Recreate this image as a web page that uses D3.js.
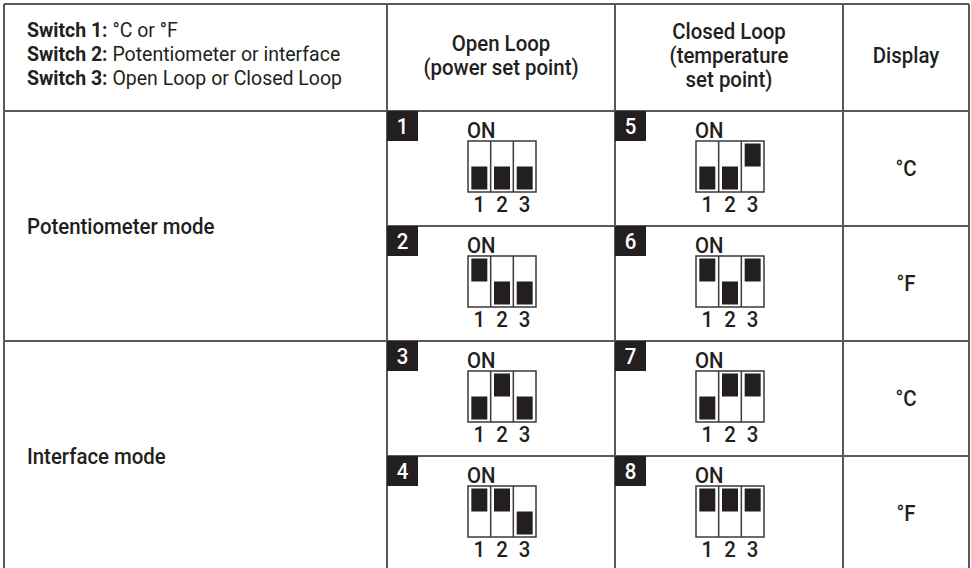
<!DOCTYPE html>
<html><head><meta charset="utf-8">
<script src="https://cdn.jsdelivr.net/npm/d3@7"></script>
<style>
body{margin:0;background:#fff;}
svg text{font-family:Roboto,"Liberation Sans",sans-serif;fill:#231f20;}
</style></head><body>
<svg id="c" width="971" height="568"></svg>
<script>
// ---- data ----
const legendKeys = ["Switch 1:", "Switch 2:", "Switch 3:"];
const legendValues = ["°C or °F", "Potentiometer or interface", "Open Loop or Closed Loop"];
const columnHeaders = [["Open Loop", "(power set point)"], ["Closed Loop", "(temperature", "set point)"], ["Display"]];
const modes = ["Potentiometer mode", "Interface mode"];
const displayUnits = ["°C", "°F", "°C", "°F"];
const openLoopIds = [1, 2, 3, 4];
const closedLoopIds = [5, 6, 7, 8];
const openLoopSwitches = [[0,0,0],[1,0,0],[0,1,0],[1,1,0]];
const closedLoopSwitches = [[0,0,1],[1,0,1],[0,1,1],[1,1,1]];
const switchLabels = ["1", "2", "3"];
const onLabel = "ON";

// ---- layout ----
const svg = d3.select("#c");
const lineColor = "#58595b";
const ink = "#231f20";
const colEdges = [4, 387, 615, 843, 969];
const tableTop = 4, headerBottom = 111, tableBottom = 571;
const row = d3.scaleBand().domain(d3.range(displayUnits.length)).range([headerBottom, tableBottom]);
const modeRow = d3.scaleBand().domain(d3.range(modes.length)).range([headerBottom, tableBottom]);
const fs = 21, fsHead = 22, medium = 500;

// condensed look: horizontal squeeze fitted so the longest legend line matches the reference width
function legendLine(parent, i) {
  const t = parent.append("text").attr("dy", "0.35em").attr("font-size", fs);
  t.append("tspan").attr("font-weight", 700).text(legendKeys[i] + " ");
  t.append("tspan").text(legendValues[i]);
  return t;
}
const probe = legendLine(svg.append("g"), 2);
const sx = 315 / probe.node().getComputedTextLength();
probe.node().parentNode.remove();

function label(x, y, anchor) {
  return svg.append("g").attr("transform", `translate(${x},${y}) scale(${sx},1)`)
    .append("text").attr("text-anchor", anchor || "start").attr("dy", "0.35em");
}

// grid lines
const g = svg.append("g").attr("stroke", lineColor).attr("stroke-width", 2);
g.append("line").attr("x1", colEdges[0]).attr("x2", colEdges[4]).attr("y1", tableTop).attr("y2", tableTop);
colEdges.forEach(x => g.append("line").attr("x1", x).attr("x2", x).attr("y1", tableTop).attr("y2", tableBottom));
g.append("line").attr("x1", colEdges[0]).attr("x2", colEdges[4]).attr("y1", headerBottom).attr("y2", headerBottom);
d3.range(1, displayUnits.length).forEach(i => {
  const y = row(i);
  const full = (i % 2 === 0);
  g.append("line").attr("x1", full ? colEdges[0] : colEdges[1]).attr("x2", colEdges[4]).attr("y1", y).attr("y2", y);
});

// legend (header col 1)
const headMid = 54, lineH = 24;
legendKeys.forEach((k, i) => {
  const gg = svg.append("g").attr("transform", `translate(27,${headMid + (i - 1) * lineH}) scale(${sx},1)`);
  legendLine(gg, i);
});

// column headers
columnHeaders.forEach((lines, ci) => {
  const cx = (colEdges[ci + 1] + colEdges[ci + 2]) / 2;
  lines.forEach((l, li) => {
    label(cx, headMid + 1 + (li - (lines.length - 1) / 2) * lineH, "middle")
      .attr("font-size", fsHead).attr("font-weight", medium).text(l);
  });
});

// modes
modes.forEach((m, i) => {
  label(27, modeRow(i) + modeRow.bandwidth() / 2).attr("font-size", fsHead).attr("font-weight", medium).text(m);
});

// display units
displayUnits.forEach((u, i) => {
  label((colEdges[3] + colEdges[4]) / 2, row(i) + row.bandwidth() / 2, "middle")
    .attr("font-size", fsHead).attr("font-weight", medium).text(u);
});

// dip switches
const frameW = 68, frameH = 51, knobW = 16, knobH = 23, inset = 2.5;
const slot = d3.scaleBand().domain(switchLabels).range([0, frameW]);
const knobY = d3.scaleOrdinal().domain([1, 0]).range([inset, frameH - inset - knobH]);

function drawCell(colLeft, rowIdx, id, states) {
  const top = row(rowIdx);
  svg.append("rect").attr("x", colLeft).attr("y", top).attr("width", 31).attr("height", 30).attr("fill", ink);
  label(colLeft + 15.5, top + 15, "middle").attr("font-size", 22).attr("font-weight", medium).style("fill", "#fff").text(id);
  const ox = colLeft + 81, oy = top + 30;
  label(ox - 1, oy - 11).attr("font-size", 22).attr("font-weight", medium).text(onLabel);
  const sg = svg.append("g").attr("transform", `translate(${ox},${oy})`);
  sg.selectAll("rect.knob").data(states).join("rect").attr("class", "knob")
    .attr("x", (d, i) => slot(switchLabels[i]) + (slot.bandwidth() - knobW) / 2)
    .attr("y", d => knobY(d)).attr("width", knobW).attr("height", knobH).attr("fill", ink);
  sg.append("rect").attr("width", frameW).attr("height", frameH).attr("fill", "none").attr("stroke", "#3a3a3a").attr("stroke-width", 1.5);
  switchLabels.slice(1).forEach(s => sg.append("line").attr("x1", slot(s)).attr("x2", slot(s)).attr("y1", 0).attr("y2", frameH)
    .attr("stroke", "#3a3a3a").attr("stroke-width", 1.5));
  switchLabels.forEach(s => label(ox + slot(s) + slot.bandwidth() / 2, oy + frameH + 12, "middle")
    .attr("font-size", 22).attr("font-weight", medium).text(s));
}
openLoopSwitches.forEach((st, i) => drawCell(colEdges[1], i, openLoopIds[i], st));
closedLoopSwitches.forEach((st, i) => drawCell(colEdges[2], i, closedLoopIds[i], st));
</script></body></html>
